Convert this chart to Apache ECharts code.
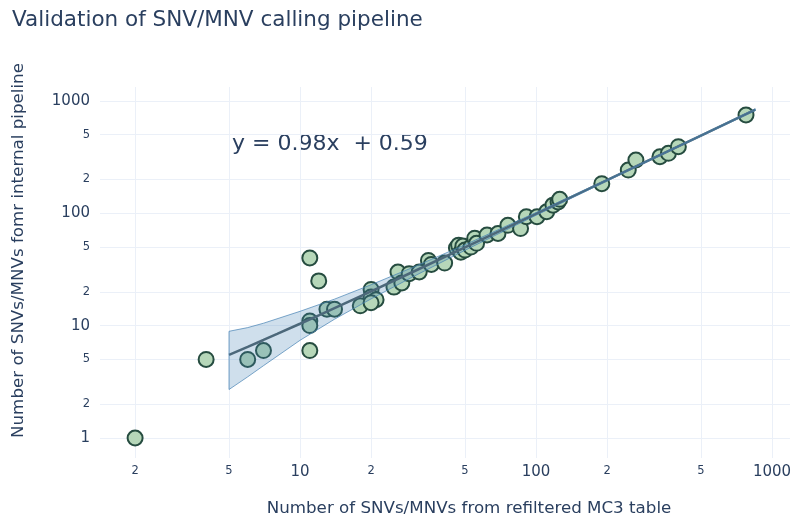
<!DOCTYPE html>
<html>
<head>
<meta charset="utf-8">
<title>Validation of SNV/MNV calling pipeline</title>
<script src="https://cdn.jsdelivr.net/npm/echarts@6/dist/echarts.min.js"></script>
<style>
  html, body { margin: 0; padding: 0; background: #ffffff; }
  #chart { width: 791px; height: 517px; }
</style>
</head>
<body>
<div id="chart"></div>
<script>
// Variant counts per sample: refiltered MC3 table (x) vs internal pipeline (y)
const mc3Counts = [2, 4, 6, 7, 11, 12, 11, 11, 11, 13, 14, 18, 20, 20, 21, 20,
  26, 25, 27, 29, 32, 35, 36, 41, 46, 47, 48, 49, 50, 53, 55, 56, 62, 69, 76,
  86, 91, 101, 111, 118, 124, 126, 190, 246, 265, 335, 364, 401, 776];
const pipelineCounts = [1, 5, 5, 6, 40, 25, 11, 10, 6, 14, 14, 15, 21, 18, 17, 16,
  30, 22, 24, 29, 30, 38, 35, 36, 49, 52, 45, 51, 47, 50, 60, 54, 64, 66, 78,
  73, 93, 93, 103, 118, 126, 133, 183, 242, 297, 318, 341, 391, 748];

// Linear fit y = slope * x + intercept
const fitSlope = 0.98;
const fitIntercept = 0.59;
const fitX = [5, 6, 7, 8, 10, 12, 15, 20, 30, 50, 70, 100, 150, 200, 300, 500, 850];

// Confidence band of the fit
const bandX  = [5,   6,   7,   10,  14,   20,   30,   50,   100,   200,   400,   850];
const bandLo = [2.7, 3.5, 4.4, 7.4, 11.4, 17.3, 27.1, 46.8, 95.9,  193.5, 387.5, 818];
const bandHi = [8.9, 9.6, 10.5, 13.4, 17.2, 23.1, 32.9, 52.4, 101.3, 199.7, 397.7, 849];

// Tick labels on both log axes
const xTicks = [2, 5, 10, 20, 50, 100, 200, 500, 1000];
const yTicks = [1, 2, 5, 10, 20, 50, 100, 200, 500, 1000];

const equationText = 'y = ' + fitSlope.toFixed(2) + 'x  + ' + fitIntercept.toFixed(2);

const textColor = '#2a3f5f';
const gridColor = '#ebf0f8';
const fontFamily = '"DejaVu Sans", Verdana, sans-serif';

function tickLabel(v) {
  const exp = Math.floor(Math.log10(v) + 1e-9);
  const mant = Math.round(v / Math.pow(10, exp));
  if (mant === 1) return '{big|' + v + '}';
  return '{small|' + mant + '}';
}

const labelRich = {
  big: { fontSize: 15, color: textColor, fontFamily: fontFamily },
  small: { fontSize: 11.5, color: textColor, fontFamily: fontFamily }
};

const scatterData = mc3Counts.map((x, i) => [x, pipelineCounts[i]]);
const fitData = fitX.map(x => [x, fitSlope * x + fitIntercept]);

const chart = echarts.init(document.getElementById('chart'), null, { renderer: 'canvas' });

chart.setOption({
  backgroundColor: '#ffffff',
  animation: false,
  textStyle: { fontFamily: fontFamily },
  title: {
    text: 'Validation of SNV/MNV calling pipeline',
    left: 7,
    top: 4,
    textStyle: { fontSize: 21.5, fontWeight: 'normal', color: textColor, fontFamily: fontFamily }
  },
  graphic: [{
    type: 'text',
    left: 232,
    top: 133,
    style: { text: equationText, fontSize: 22, fill: textColor, fontFamily: fontFamily }
  }],
  grid: { left: 100, right: 1, top: 87, bottom: 59, containLabel: false, outerBoundsMode: 'none' },
  xAxis: {
    type: 'log',
    logBase: 10,
    min: 1.42,
    max: 1192,
    name: 'Number of SNVs/MNVs from refiltered MC3 table',
    nameLocation: 'middle',
    nameGap: 42,
    nameTextStyle: { fontSize: 16.7, color: textColor, fontFamily: fontFamily, padding: [0, 0, 0, 48] },
    axisLine: { show: false },
    axisTick: { show: false, customValues: xTicks },
    axisLabel: { customValues: xTicks, formatter: tickLabel, rich: labelRich, margin: 7 },
    splitLine: { show: true, lineStyle: { color: gridColor, width: 1 } },
    minorSplitLine: { show: false }
  },
  yAxis: {
    type: 'log',
    logBase: 10,
    min: 0.664,
    max: 1327,
    name: 'Number of SNVs/MNVs fomr internal pipeline',
    nameLocation: 'middle',
    nameGap: 73,
    nameTextStyle: { fontSize: 16.7, color: textColor, fontFamily: fontFamily, padding: [0, 0, 0, 44] },
    axisLine: { show: false },
    axisTick: { show: false, customValues: yTicks },
    axisLabel: { customValues: yTicks, formatter: tickLabel, rich: labelRich, margin: 10 },
    splitLine: { show: true, lineStyle: { color: gridColor, width: 1 } },
    minorSplitLine: { show: false }
  },
  series: [
    {
      type: 'scatter',
      data: scatterData,
      symbol: 'circle',
      symbolSize: 15,
      itemStyle: { color: '#b6d7b9', borderColor: '#264c40', borderWidth: 2, opacity: 1 },
      z: 2
    },
    {
      type: 'line',
      data: fitData,
      showSymbol: false,
      symbol: 'none',
      lineStyle: { color: '#4f5f66', width: 2.5 },
      z: 3
    },
    {
      type: 'custom',
      data: [[bandX[0], bandLo[0]]],
      z: 4,
      renderItem: function (params, api) {
        const pts = [];
        for (let i = 0; i < bandX.length; i++) pts.push(api.coord([bandX[i], bandHi[i]]));
        for (let i = bandX.length - 1; i >= 0; i--) pts.push(api.coord([bandX[i], bandLo[i]]));
        return {
          type: 'polygon',
          shape: { points: pts },
          style: { fill: 'rgba(70,130,180,0.26)', stroke: 'rgba(70,130,180,0.7)', lineWidth: 1 }
        };
      }
    }
  ]
});
</script>
</body>
</html>
